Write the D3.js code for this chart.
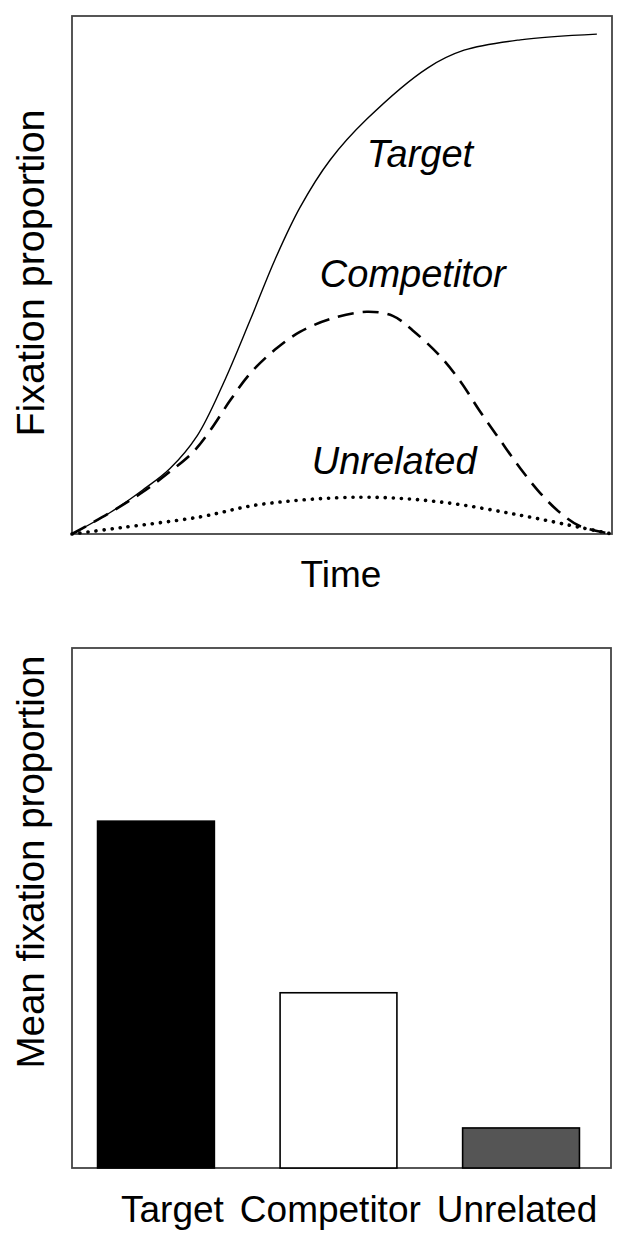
<!DOCTYPE html>
<html>
<head>
<meta charset="utf-8">
<script src="https://cdn.jsdelivr.net/npm/d3@7"></script>
<style>
  body { margin: 0; background: #fff; }
  svg { display: block; font-family: "Liberation Sans", Arial, sans-serif; }
</style>
</head>
<body>
<svg id="chart" width="628" height="1234"></svg>
<script>
// time course (time 0-100, proportion 0-1)
const targetTime = [0, 7, 13.1, 18.1, 23.2, 28, 33, 37.6, 42.2, 47.8, 54.6, 65.9, 72.6, 83, 97.2]
const targetProp = [0, 0.041, 0.085, 0.126, 0.19, 0.29, 0.413, 0.53, 0.63, 0.722, 0.801, 0.9, 0.934, 0.954, 0.965]

const competitorTime = [0, 7, 13.1, 18.1, 22.4, 25.6, 29.3, 33, 37.6, 42.2, 47.8, 54.6, 59.4, 63.1, 68.1, 71.9, 75.6, 79.3, 83, 86.7, 90.4, 94.1, 100]
const competitorProp = [0, 0.041, 0.081, 0.12, 0.158, 0.2, 0.258, 0.31, 0.356, 0.39, 0.415, 0.429, 0.421, 0.393, 0.344, 0.295, 0.236, 0.181, 0.127, 0.079, 0.041, 0.015, 0]

const unrelatedTime = [0, 8.9, 23.7, 34.8, 53.3, 68.1, 82.6, 94.4, 100]
const unrelatedProp = [0, 0.012, 0.033, 0.057, 0.071, 0.062, 0.037, 0.012, 0]

// where the curve names sit (time, proportion)
const curveNames = ['Target', 'Competitor', 'Unrelated']
const nameTime = [54.6, 45.9, 44.4]
const nameProp = [0.708, 0.477, 0.116]

// bar panel
const categories = ['Target', 'Competitor', 'Unrelated']
const meanFixation = [0.667, 0.337, 0.077]
const barFills = ['#000', '#fff', '#555']

const svg = d3.select('#chart')

// ---- top panel: fixation over time ----
const x = d3.scaleLinear().domain([0, 100]).range([72, 612])
const y = d3.scaleLinear().domain([0, 1]).range([534, 16])

const line = d3.line()
    .x(d => x(d[0]))
    .y(d => y(d[1]))
    .curve(d3.curveCatmullRom.alpha(0.5))

const series = [
  { t: targetTime, p: targetProp, width: 1.4, dash: null, cap: 'butt' },
  { t: competitorTime, p: competitorProp, width: 2.6, dash: '16 9', cap: 'butt' },
  { t: unrelatedTime, p: unrelatedProp, width: 3.6, dash: '0.1 8', cap: 'round' }
]

svg.append('rect')
    .attr('x', x(0)).attr('y', y(1))
    .attr('width', x(100) - x(0)).attr('height', y(0) - y(1))
    .attr('fill', 'none').attr('stroke', '#444').attr('stroke-width', 1.8)

svg.selectAll('path.curve').data(series).enter()
  .append('path')
    .attr('class', 'curve')
    .attr('d', s => line(d3.zip(s.t, s.p)))
    .attr('fill', 'none')
    .attr('stroke', '#000')
    .attr('stroke-width', s => s.width)
    .attr('stroke-dasharray', s => s.dash)
    .attr('stroke-linecap', s => s.cap)

svg.selectAll('text.name').data(curveNames).enter()
  .append('text')
    .attr('class', 'name')
    .attr('x', (d, i) => x(nameTime[i]))
    .attr('y', (d, i) => y(nameProp[i]))
    .attr('font-size', 38)
    .attr('font-style', 'italic')
    .text(d => d)

svg.append('text')
    .attr('x', 341).attr('y', 587)
    .attr('text-anchor', 'middle')
    .attr('font-size', 37)
    .text('Time')

svg.append('text')
    .attr('transform', 'translate(44,273) rotate(-90)')
    .attr('text-anchor', 'middle')
    .attr('font-size', 39.5)
    .text('Fixation proportion')

// ---- bottom panel: mean fixation ----
const xb = d3.scaleBand().domain(categories).range([72, 605])
    .paddingInner(0.36).paddingOuter(0.14)
const yb = d3.scaleLinear().domain([0, 1]).range([1168, 648])

svg.append('rect')
    .attr('x', 72).attr('y', yb(1))
    .attr('width', 611 - 72).attr('height', yb(0) - yb(1))
    .attr('fill', 'none').attr('stroke', '#444').attr('stroke-width', 1.8)

svg.selectAll('rect.bar').data(categories).enter()
  .append('rect')
    .attr('class', 'bar')
    .attr('x', d => xb(d))
    .attr('y', (d, i) => yb(meanFixation[i]))
    .attr('width', xb.bandwidth())
    .attr('height', (d, i) => yb(0) - yb(meanFixation[i]))
    .attr('fill', (d, i) => barFills[i])
    .attr('stroke', '#000')
    .attr('stroke-width', 1.6)

// category labels run as one line under the bars
const catText = svg.append('text')
    .attr('x', 121).attr('y', 1222)
    .attr('font-size', 37)
catText.selectAll('tspan').data(categories).enter()
  .append('tspan')
    .attr('dx', (d, i) => i ? 16 : 0)
    .text(d => d)

svg.append('text')
    .attr('transform', 'translate(44,862) rotate(-90)')
    .attr('text-anchor', 'middle')
    .attr('font-size', 38.5)
    .text('Mean fixation proportion')
</script>
</body>
</html>
